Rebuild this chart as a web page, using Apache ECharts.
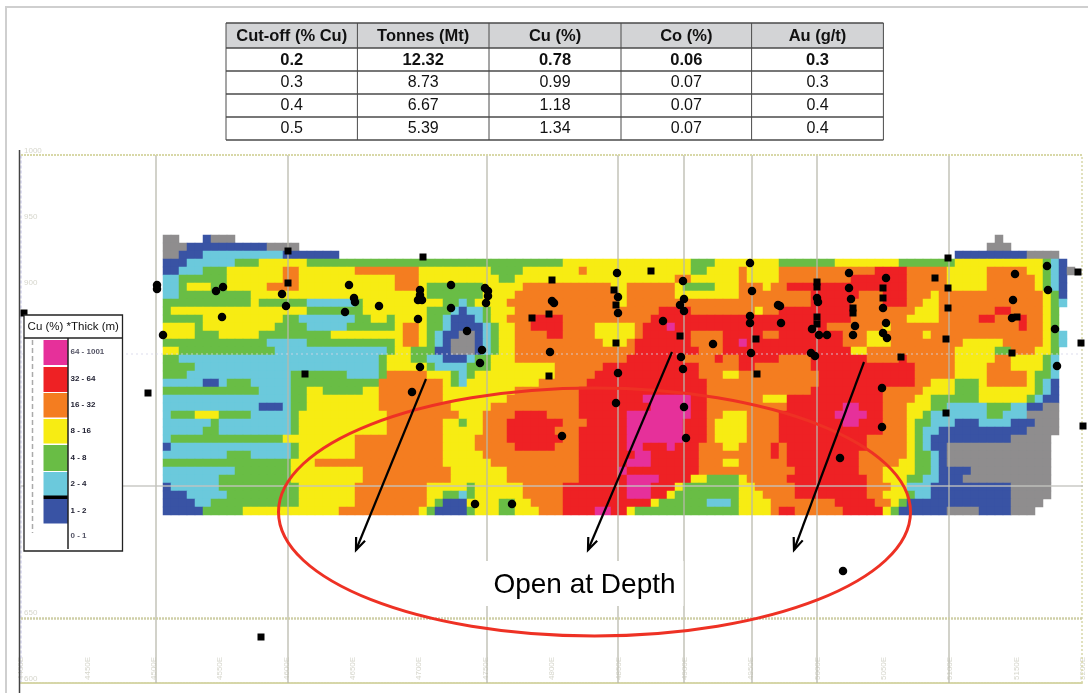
<!DOCTYPE html>
<html>
<head>
<meta charset="utf-8">
<style>html,body{margin:0;padding:0;background:#fff}#c{width:1088px;height:693px}</style>
<script src="https://cdn.jsdelivr.net/npm/echarts@6/dist/echarts.min.js"></script>
</head>
<body>
<div id="c"></div>
<script>
// ---- resource table
const tableHeaders = ['Cut-off (% Cu)', 'Tonnes (Mt)', 'Cu (%)', 'Co (%)', 'Au (g/t)'];
const tableRows = [
  ['0.2', '12.32', '0.78', '0.06', '0.3'],
  ['0.3', '8.73', '0.99', '0.07', '0.3'],
  ['0.4', '6.67', '1.18', '0.07', '0.4'],
  ['0.5', '5.39', '1.34', '0.07', '0.4']
];
// ---- legend classes, top to bottom
const legendTitle = 'Cu (%) *Thick (m)';
const legendLabels = ['64 - 1001', '32 - 64', '16 - 32', '8 - 16', '4 - 8', '2 - 4', '1 - 2', '0 - 1'];
const classColors = { x: '#8f8d8e', b: '#3953a4', c: '#6bc9dc', g: '#69bd45', y: '#f7ec13', o: '#f47d20', r: '#ee2124', m: '#e6309a' };
// ---- long section grid: each row lists class + column where that class ends
const sectionRows = [
"x2 .5 b6 x9 .104 x105 .115",
"x3 b13 x17 .103 x106 .115",
"x2 b5 c15 b22 .99 b108 x112 .115",
"b3 c9 g12 y18 g38 g50 y66 g69 y77 g84 y92 g99 y110 g111 c112 b113 .115",
"b2 c5 g8 y15 o17 y24 o32 y38 y41 g45 y52 o53 y66 g68 y72 o73 y77 o89 r93 o98 y103 o108 y110 g111 c112 b113 x114 .115",
"c2 g8 y15 o17 y29 o32 y38 y42 g44 y64 o66 y72 o73 y77 o86 r93 o98 y103 o109 y110 g111 c112 b113 .115",
"c2 g3 y6 g8 y13 o17 y29 o32 y33 g38 g40 y45 o56 y58 o64 y65 g69 y72 o75 y76 o77 o78 r93 o98 y103 o109 y110 g111 c112 b113",
"c2 g11 y33 g38 g40 y44 o57 y58 o64 y72 o77 o81 r87 o90 r93 o96 y97 o110 y111 g112 b113",
"g11 y12 g18 c24 g25 y35 g37 c38 g39 y43 o57 y58 o77 o81 r86 o90 r93 o95 y97 o110 y111 g112 c113",
"g1 y18 g25 y33 g36 c37 b38 c40 g41 y44 o62 r66 o74 y75 o77 r86 o94 y97 o104 r106 o110 y111 g112",
"g5 y15 g17 c24 g26 y28 g29 y33 g35 c36 b38 b39 c40 g41 y43 o46 r50 o61 r77 r86 o93 y97 o102 r104 o107 r108 o110 y111 g112",
"y4 g5 y14 g18 c23 g29 y30 o32 y33 g35 c36 b38 b40 c41 g42 y44 o46 r50 o54 y59 o60 r63 m64 r77 r83 o90 y91 o107 r108 o110 y111 g112",
"y4 g7 y12 g21 y30 o32 y33 g34 c35 b37 x38 x39 b40 c41 g42 y44 o48 r50 o54 y59 o60 r66 o70 r75 o77 r85 o88 y90 o95 y96 o110 y111 g112 c113",
"g13 c18 g29 y30 o32 y33 g34 c35 b36 x38 x39 b40 c41 g42 y44 o55 y58 o59 r66 o70 r72 m73 r77 r85 o88 y91 o100 y105 o110 y111 g112 c113",
"y2 g14 c28 g29 y31 g34 b36 x38 x39 b40 c41 g42 y44 o59 r67 o70 r77 r86 y88 o99 y104 g106 o109 y111 g112",
"g2 c27 g28 y31 g33 c35 b38 c39 g41 y44 o58 r65 o69 r70 o72 r77 o81 r88 o92 r93 o99 y104 o106 y110 g111 c112",
"g4 c27 g28 y33 g34 c38 g41 y49 o55 r67 o72 r74 o77 o81 r94 o99 y103 o106 y110 g111 c112",
"g3 c16 g23 c27 g28 o33 y36 g37 c38 g39 y49 o54 r67 o70 y72 o77 o82 r94 o99 y103 o108 y109 g111 c112",
"c5 b7 c8 g11 c16 g27 o35 y36 g37 c38 y47 o53 r68 o77 o82 r94 o96 y99 g102 y103 o108 y109 g110 c111 b112",
"g12 c16 g18 y20 g25 y27 o35 y38 y44 o52 r68 o77 o81 r90 o95 y99 g102 y109 g110 c111 b112",
"c16 g18 y27 o35 y38 y43 o52 r60 m66 r68 o75 y77 y78 r90 o94 y96 g102 y108 g109 c110 b112",
"c12 b15 c16 g18 y27 o36 y38 y41 o52 r61 m66 r68 o77 o78 r85 m87 r90 o93 y96 g98 c103 g106 c108 b110 x112",
"c1 g4 y7 g11 c16 g17 y28 o37 y38 y40 o44 r48 o52 r58 m66 r68 o70 y73 o77 r84 m88 r90 o93 y95 g96 c103 g105 c108 x112",
"c6 g7 c16 g17 y28 o35 y37 g38 y40 o43 r50 o53 r58 m65 r68 o69 y73 o77 r85 m87 r90 o93 y94 g96 c99 b102 c106 b109 x112",
"c5 g7 c16 g17 y28 o35 y38 y40 o43 r49 o52 r58 m65 r68 o69 y73 o77 r90 o93 y94 g95 c97 b108 x112",
"c1 g15 y24 o35 y38 y39 o43 r50 o52 r58 m65 r68 o69 y73 o77 r88 o93 y94 g95 c96 b106 x111 .115",
"b1 c16 g17 y24 o35 y38 y39 o44 r49 o52 r58 m60 r63 m64 r67 o70 y72 o76 r77 o78 r88 o93 y94 g95 c96 b98 x111 .115",
"c8 g11 c16 g17 y24 o35 y38 y40 o52 r59 m61 r67 o76 r77 o78 r87 o93 y94 g96 c97 b98 x111 .115",
"g16 y19 o35 y38 y41 o52 r58 m61 r67 o70 y72 o77 o78 r87 o92 y94 g96 c97 b98 x111",
"c9 g16 y25 o36 y38 y43 o52 r57 m58 r67 o77 o79 r87 o90 y94 g96 c97 b101 x111",
"c7 g16 y25 o36 y38 y43 o52 r58 m62 r66 y68 g72 y73 o77 o78 r88 o90 y93 g95 c97 b100 x111",
"b1 c7 g17 y24 o33 y38 g39 y45 o50 r58 m61 r64 y65 g72 y74 o77 o79 r88 o91 y93 c96 b106 x111",
"b3 c8 g17 y24 o33 y35 g37 c38 g39 y45 o50 r58 m61 r63 y64 g72 y75 o77 o79 r88 o90 y93 g94 c96 b106 x111",
"b4 c6 g17 y24 o33 y34 g35 b38 y42 g44 y46 o50 r61 y62 g68 c71 g72 y76 o77 o84 r89 o91 y92 g93 b106 x110",
"b5 g10 y22 o32 y33 g34 b38 g39 y42 g44 y47 o50 r54 m56 r58 y59 g72 y76 o77 r79 o85 r90 y91 g92 b98 x102 b106 x109"
];
const sectionColumns = 115;
// ---- drill hole pierce points, easting / elevation in section units
const drillCircles = [[202,396],[195,392],[328,398],[261,389],[265,377],[201,366],[142,348],[333,385],[334,381],[324,371],[358,377],[399,393],[399,388],[397,383],[401,383],[430,398],[430,375],[397,364],[446,352],[399,316],[391,291],[464,395],[467,392],[467,387],[465,380],[531,382],[533,380],[461,333],[459,320],[529,331],[596,410],[597,386],[597,370],[597,310],[662,402],[663,384],[659,378],[663,372],[642,362],[660,326],[662,314],[692,339],[729,420],[731,392],[729,367],[729,360],[730,330],[757,378],[454,179],[491,179],[541,247],[595,280],[663,276],[665,245],[759,377],[760,360],[796,385],[797,381],[791,354],[798,348],[806,348],[828,410],[828,395],[830,384],[834,357],[832,348],[865,405],[862,375],[865,360],[862,350],[866,345],[790,330],[794,327],[994,409],[1026,417],[1027,393],[992,383],[991,365],[1034,354],[1036,317],[861,295],[861,256],[819,225],[822,112],[136,398],[136,394]];
const drillSquares = [[267,432],[402,426],[267,400],[284,309],[531,403],[528,369],[511,365],[528,307],[630,412],[593,393],[595,378],[595,340],[659,347],[735,344],[736,309],[796,401],[796,396],[796,366],[796,359],[832,370],[832,375],[862,395],[862,385],[914,405],[927,425],[927,395],[927,375],[925,344],[880,326],[996,366],[991,330],[1057,411],[1060,340],[925,270],[1062,257],[127,290],[3,370],[240,46]];
// ---- reference grid
const eastingLines = [135, 267, 465.5, 597, 662.5, 730.5, 796, 927.6];
const elevationLines = [[329, '#d5d5ea', [2, 3], 1.5, 0.55], [197, '#c4c4c0', 'solid', 1.5, 0.9], [65, '#cfcfa8', [2, 1], 2.5, 1]];
const eastingLabels = ['4400E','4450E','4500E','4550E','4600E','4650E','4700E','4750E','4800E','4850E','4900E','4950E','5000E','5050E','5100E','5150E','5200E'];
const elevationLabels = ['600','650','700','750','800','850','900','950','1000'];
// ---- annotations
const targetEllipse = [[573.5, 171, 316, 124]];
const depthArrows = [[405, 304, 335, 133], [651, 331, 567, 133], [843, 321, 773, 133]];
const annotationText = 'Open at Depth';

const classValue = { x: 0, b: 1, c: 2, g: 3, y: 4, o: 5, r: 6, m: 7 };
const classKeys = Object.keys(classColors);
const heatData = [];
sectionRows.forEach((row, r) => {
  let col = 0;
  for (const m of row.matchAll(/([.xbcgyorm])(\d+)/g)) {
    const end = +m[2];
    for (; col < end; col++) if (m[1] !== '.') heatData.push([col, r, classValue[m[1]]]);
  }
});

const tableX = [226, 357.4, 489, 621, 751.6, 883.4];
const tableY = [23, 48, 71, 94, 117, 140];
const F = '"Liberation Sans", Arial, sans-serif';
const gfx = [];
const hline = (x1, y1, x2, y2, stroke, lineWidth, extra) => gfx.push(Object.assign({ type: 'line', z: 100, silent: true, shape: { x1, y1, x2, y2 }, style: { stroke, lineWidth } }, extra || {}));
// page frame
hline(5, 7, 1088, 7, '#cfcfcf', 2);
hline(6, 7, 6, 693, '#cfcfcf', 2);
hline(19.5, 150, 19.5, 693, '#444', 1.5);
// table
gfx.push({ type: 'rect', z: 100, shape: { x: tableX[0], y: tableY[0], width: tableX[5] - tableX[0], height: tableY[1] - tableY[0] }, style: { fill: '#d3d4d6' } });
tableY.forEach(y => hline(tableX[0], y, tableX[5], y, '#4a4a4a', 1.3));
tableX.forEach(x => hline(x, tableY[0], x, tableY[5], '#4a4a4a', 1));
[tableHeaders].concat(tableRows).forEach((row, r) => row.forEach((t, c) => gfx.push({
  type: 'text', z: 101, style: {
    text: t, x: (tableX[c] + tableX[c + 1]) / 2, y: (tableY[r] + tableY[r + 1]) / 2 + 0.5, align: 'center', verticalAlign: 'middle',
    font: (r < 2 ? 'bold 16.5px ' : '16px ') + F, fill: '#111'
  }
})));
// legend
const L = { x: 24, y: 315, w: 98.5, h: 236 };
gfx.push({ type: 'rect', z: 100, shape: { x: L.x, y: L.y, width: L.w, height: L.h }, style: { fill: '#fff', stroke: '#222', lineWidth: 1.3 } });
hline(L.x, 338, L.x + L.w, 338, '#222', 1.3);
gfx.push({ type: 'text', z: 101, style: { text: legendTitle, x: L.x + L.w / 2, y: 327, align: 'center', verticalAlign: 'middle', font: '11.5px ' + F, fill: '#111' } });
const swatchY = [[340, 365], [367, 392], [393, 417.5], [419, 443.5], [445, 471], [472, 496], [499, 523.5]];
['m', 'r', 'o', 'y', 'g', 'c', 'b'].forEach((k, i) => gfx.push({ type: 'rect', z: 101, shape: { x: 43.5, y: swatchY[i][0], width: 24.5, height: swatchY[i][1] - swatchY[i][0] }, style: { fill: classColors[k] } }));
gfx.push({ type: 'rect', z: 102, shape: { x: 43.5, y: 495.5, width: 24.5, height: 3.5 }, style: { fill: '#000' } });
hline(68, 338, 68, 549, '#222', 1.5, { z: 102 });
hline(32.5, 340, 32.5, 533, '#aaa', 1.5, { z: 102, style: { stroke: '#aaa', lineWidth: 1.5, lineDash: [5, 3] } });
[352, 379, 405, 431, 458, 484, 511, 536].forEach((y, i) => gfx.push({ type: 'text', z: 102, style: { text: legendLabels[i], x: 70.5, y, align: 'left', verticalAlign: 'middle', font: 'bold 8px ' + F, fill: i === 7 || i === 0 ? '#556' : '#223' } }));
// text label with its white plate
gfx.push({ type: 'rect', z: 100, shape: { x: 482, y: 561, width: 201.5, height: 45 }, style: { fill: '#fff' } });
gfx.push({ type: 'text', z: 101, style: { text: annotationText, x: 584.5, y: 585, align: 'center', verticalAlign: 'middle', font: '28px ' + F, fill: '#000' } });

const chart = echarts.init(document.getElementById('c'), null, { renderer: 'canvas' });
chart.setOption({
  animation: false,
  backgroundColor: '#fff',
  grid: [
    { left: 163, top: 235, width: sectionColumns * 8, height: sectionRows.length * 8 },
    { left: 21, top: 155, width: 1062, height: 528 }
  ],
  xAxis: [
    { type: 'category', gridIndex: 0, show: false, data: Array.from({ length: sectionColumns }, (_, i) => i) },
    {
      type: 'value', gridIndex: 1, min: 0, max: 1062, interval: 66.375, splitLine: { show: false }, axisTick: { show: false },
      axisLine: { show: true, lineStyle: { color: '#d6d6a8', width: 2, type: [2, 1] } },
      axisLabel: { inside: true, rotate: 90, color: '#d6d6cc', fontSize: 8, fontFamily: F, margin: 3, formatter: v => eastingLabels[Math.round(v / 66.375)] }
    }
  ],
  yAxis: [
    { type: 'category', gridIndex: 0, show: false, inverse: true, data: sectionRows.map((_, i) => i) },
    {
      type: 'value', gridIndex: 1, min: 0, max: 528, interval: 66, splitLine: { show: false }, axisTick: { show: false },
      axisLine: { show: true, lineStyle: { color: '#d8d8f0', width: 1.5, type: [2, 3] } },
      axisLabel: { inside: true, color: '#d6d6cc', fontSize: 8, fontFamily: F, margin: 3, verticalAlign: 'bottom', formatter: v => elevationLabels[Math.round(v / 66)] }
    }
  ],
  visualMap: {
    show: false, type: 'piecewise', seriesIndex: 0, dimension: 2,
    pieces: classKeys.map(k => ({ value: classValue[k], color: classColors[k] }))
  },
  graphic: gfx,
  series: [
    { type: 'heatmap', xAxisIndex: 0, yAxisIndex: 0, z: 2, progressive: 0, silent: true, data: heatData, itemStyle: { borderWidth: 0 } },
    {
      type: 'line', xAxisIndex: 1, yAxisIndex: 1, z: 3, data: [], silent: true,
      markLine: {
        silent: true, symbol: 'none', label: { show: false }, animation: false,
        data: eastingLines.map(v => ({ xAxis: v, lineStyle: { color: '#b9b9ac', width: 1.5, type: 'solid', opacity: 0.85 } }))
          .concat([{ yAxis: 528, lineStyle: { color: '#d8d8a8', width: 2, type: [2, 1], opacity: 1 } }, { xAxis: 1061, lineStyle: { color: '#d8d8a8', width: 1.5, type: [2, 2], opacity: 1 } }])
          .concat(elevationLines.map(e => ({ yAxis: e[0], lineStyle: { color: e[1], type: e[2], width: e[3], opacity: e[4] } })))
      }
    },
    { type: 'scatter', xAxisIndex: 1, yAxisIndex: 1, z: 5, symbol: 'circle', symbolSize: 8.5, silent: true, clip: false, itemStyle: { color: '#000', opacity: 1 }, data: drillCircles },
    { type: 'scatter', xAxisIndex: 1, yAxisIndex: 1, z: 5, symbol: 'rect', symbolSize: 7, silent: true, clip: false, itemStyle: { color: '#000', opacity: 1 }, data: drillSquares },
    {
      type: 'custom', xAxisIndex: 1, yAxisIndex: 1, z: 6, silent: true, clip: false, data: targetEllipse,
      renderItem: (p, api) => {
        const c = api.coord([api.value(0), api.value(1)]);
        const e = api.coord([api.value(0) + api.value(2), api.value(1) + api.value(3)]);
        return { type: 'ellipse', shape: { cx: c[0], cy: c[1], rx: e[0] - c[0], ry: c[1] - e[1] }, style: { fill: null, stroke: '#ee3124', lineWidth: 3 } };
      }
    },
    {
      type: 'custom', xAxisIndex: 1, yAxisIndex: 1, z: 6, silent: true, clip: false, data: depthArrows,
      renderItem: (p, api) => {
        const a = api.coord([api.value(0), api.value(1)]);
        const b = api.coord([api.value(2), api.value(3)]);
        const ang = Math.atan2(a[1] - b[1], a[0] - b[0]);
        const barb = s => [b[0] + 13 * Math.cos(ang + s), b[1] + 13 * Math.sin(ang + s)];
        const style = { stroke: '#000', lineWidth: 2.2, fill: null };
        return { type: 'group', children: [
          { type: 'line', shape: { x1: a[0], y1: a[1], x2: b[0], y2: b[1] }, style },
          { type: 'polyline', shape: { points: [barb(0.38), b, barb(-0.38)] }, style }
        ] };
      }
    }
  ]
});
</script>
</body>
</html>
